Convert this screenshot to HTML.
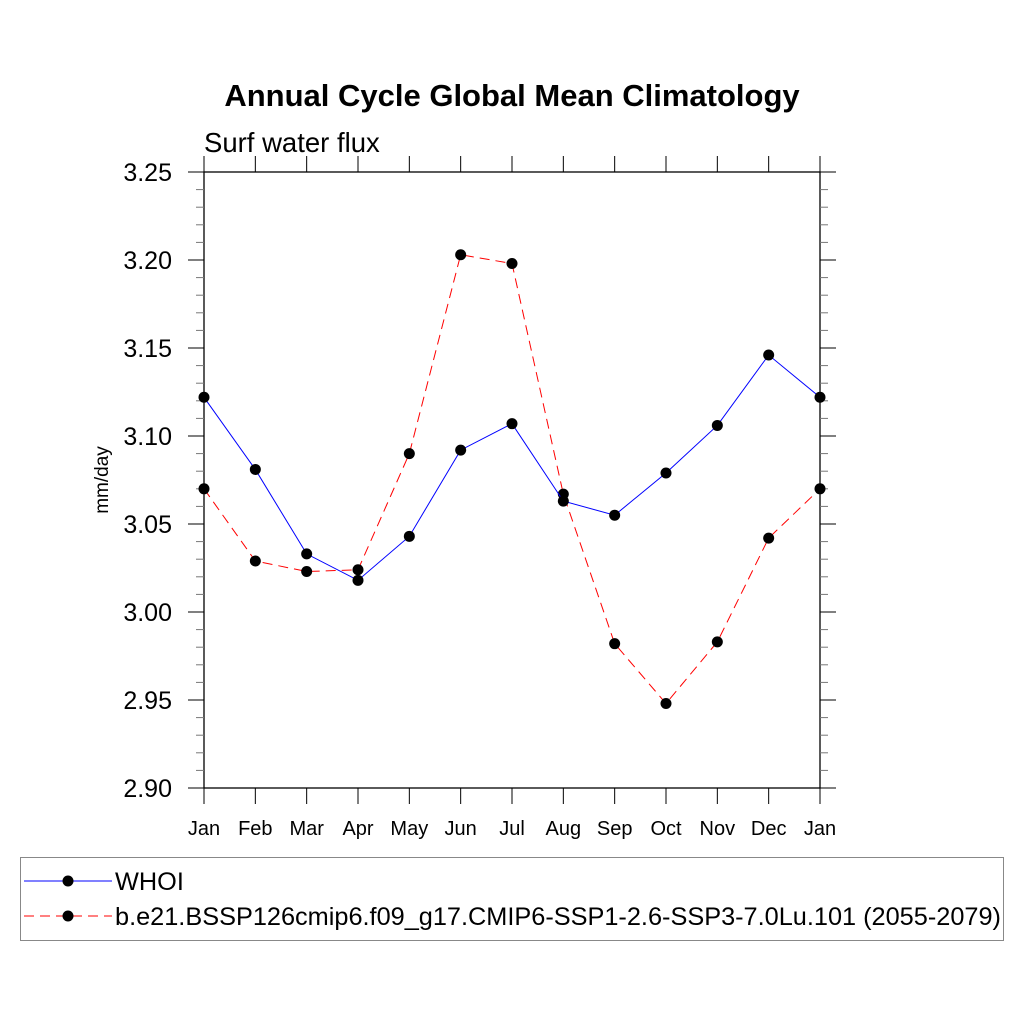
<!DOCTYPE html>
<html><head><meta charset="utf-8"><style>
body{margin:0;background:#fff;}
svg text{font-family:"Liberation Sans",Arial,sans-serif;}
</style></head><body>
<svg id="chart" width="1024" height="1024" viewBox="0 0 1024 1024" xmlns="http://www.w3.org/2000/svg">
<text x="512" y="106" text-anchor="middle" font-size="31" font-weight="bold">Annual Cycle Global Mean Climatology</text>
<text x="204" y="152" font-size="27.5">Surf water flux</text>
<text transform="translate(108,480) rotate(-90)" text-anchor="middle" font-size="19">mm/day</text>
<g id="axes"></g>
<g id="series"></g>
<g>
<rect x="20.5" y="857.5" width="983" height="83" fill="none" stroke="#888" stroke-width="1"/>
<g>
<line x1="24" y1="881" x2="112" y2="881" stroke="#0000ff" stroke-width="1"/>
<circle cx="68" cy="881" r="5.5" fill="#000"/>
<text x="115" y="890" font-size="25.3">WHOI</text></g>
<g>
<line x1="24" y1="916" x2="112" y2="916" stroke="#ff0000" stroke-width="1" stroke-dasharray="10,6"/>
<circle cx="68" cy="916" r="5.5" fill="#000"/>
<text x="115" y="925" font-size="25.3">b.e21.BSSP126cmip6.f09_g17.CMIP6-SSP1-2.6-SSP3-7.0Lu.101 (2055-2079)</text></g>
</g>
</svg>
<script>
const months = ["Jan","Feb","Mar","Apr","May","Jun","Jul","Aug","Sep","Oct","Nov","Dec","Jan"];
const whoi = [3.122,3.081,3.033,3.018,3.043,3.092,3.107,3.063,3.055,3.079,3.106,3.146,3.122];
const model = [3.070,3.029,3.023,3.024,3.090,3.203,3.198,3.067,2.982,2.948,2.983,3.042,3.070];
const yTicks = ["2.90","2.95","3.00","3.05","3.10","3.15","3.20","3.25"];

const NS="http://www.w3.org/2000/svg";
const L=204,R=820,T=172,B=788,YMIN=2.90,YMAX=3.25;
const xs=i=>L+(R-L)*i/(months.length-1);
const ys=v=>B-(v-YMIN)/(YMAX-YMIN)*(B-T);
function mk(tag,attrs,parent){const e=document.createElementNS(NS,tag);for(const k in attrs)e.setAttribute(k,attrs[k]);parent.appendChild(e);return e;}
const ax=document.getElementById('axes');
const frame=mk('rect',{x:L,y:T,width:R-L,height:B-T,fill:'none',stroke:'#000','stroke-width':1.3},ax);


for(let k=0;k<=35;k++){
  const v=YMIN+k*0.01, y=ys(v), major=k%5===0;
  const len=major?16:8;
  mk('line',{x1:L-len,y1:y,x2:L,y2:y,stroke:major?'#000':'#777','stroke-width':1},ax);
  mk('line',{x1:R,y1:y,x2:R+len,y2:y,stroke:major?'#000':'#777','stroke-width':1},ax);
}
yTicks.forEach(t=>{
  const tx=mk('text',{x:172,y:ys(parseFloat(t))+9,'text-anchor':'end','font-size':25},ax);
  tx.textContent=t;
  
  
});
months.forEach((m,i)=>{
  const x=xs(i);
  mk('line',{x1:x,y1:B,x2:x,y2:B+16,stroke:'#000','stroke-width':1},ax);
  mk('line',{x1:x,y1:T-16,x2:x,y2:T,stroke:'#000','stroke-width':1},ax);
  const tx=mk('text',{x:x,y:835,'text-anchor':'middle','font-size':20},ax);
  tx.textContent=m;
  
  
});
const sg=document.getElementById('series');
function series(vals,color,dash,name){
  const g=mk('g',{},sg);
  
  
  const pts=vals.map((v,i)=>xs(i)+','+ys(v)).join(' ');
  const a={points:pts,fill:'none',stroke:color,'stroke-width':1};
  if(dash)a['stroke-dasharray']=dash;
  mk('polyline',a,g);
  vals.forEach((v,i)=>{
    const c=mk('circle',{cx:xs(i),cy:ys(v),r:5.5,fill:'#000'},g);
    
    
  });
}
series(model,'#ff0000','10,6','model-series');
series(whoi,'#0000ff',null,'whoi-series');
</script>
</body></html>
